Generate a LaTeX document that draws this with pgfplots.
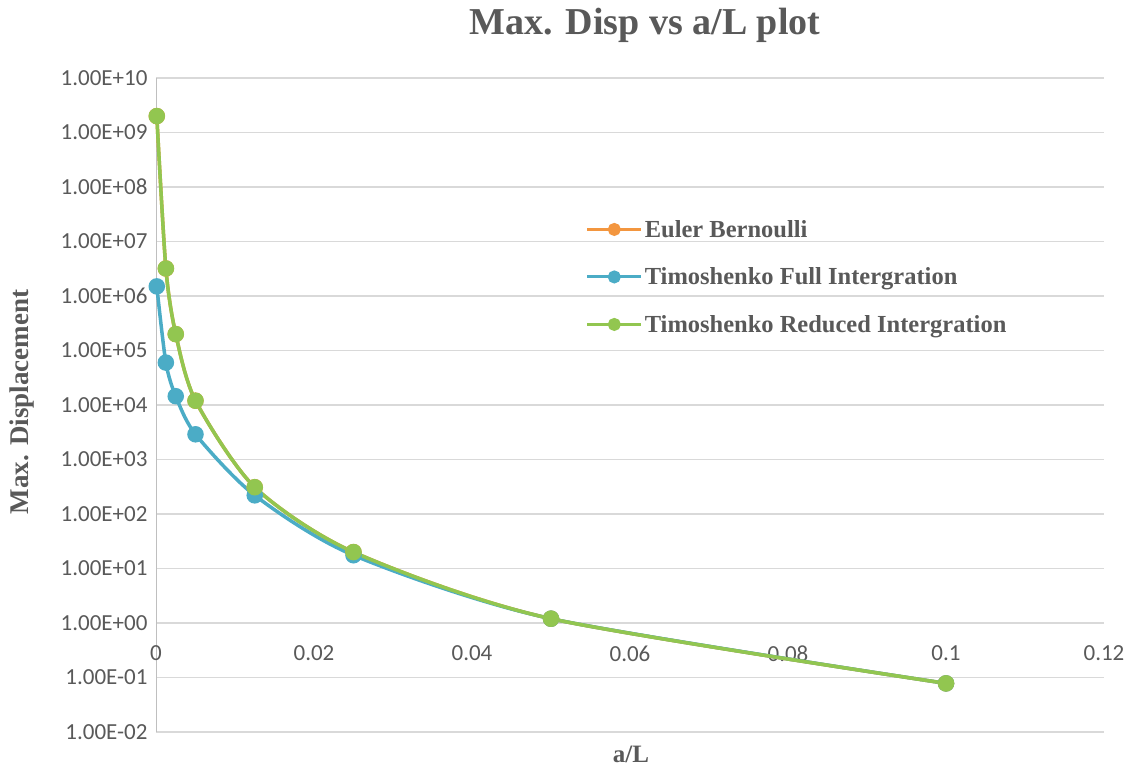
\documentclass[border=0pt]{standalone}
\usepackage{pgfplots}
\pgfplotsset{compat=1.18}
\usepackage{fontspec}
\setmainfont{Liberation Serif}
\newfontfamily\tickfont{Carlito}
\definecolor{txt}{HTML}{595959}
\definecolor{gridc}{HTML}{D9D9D9}
\definecolor{axc}{HTML}{BFBFBF}
\definecolor{ebc}{HTML}{F3963F}
\definecolor{tfc}{HTML}{4BACC6}
\definecolor{trc}{HTML}{92C650}
\begin{document}
\begin{tikzpicture}[x=1pt,y=1pt]
\useasboundingbox (0,0) rectangle (1132,772);
\begin{axis}[
  at={(156pt,40pt)}, anchor=south west,
  scale only axis, width=948pt, height=654pt,
  xmin=0, xmax=0.12, ymin=1e-2, ymax=1e10,
  ymode=log,
  axis x line*=bottom, axis y line*=left,
  x axis line style={gridc, line width=1.2pt, -},
  y axis line style={axc, line width=1pt, -},
  xtick={0,0.02,0.04,0.06,0.08,0.1,0.12},
  xticklabels={0,0.02,0.04,0.06,0.08,0.1,0.12},
  ytick={1e-2,1e-1,1e0,1e1,1e2,1e3,1e4,1e5,1e6,1e7,1e8,1e9,1e10},
  yticklabels={1.00E-02,1.00E-01,1.00E+00,1.00E+01,1.00E+02,1.00E+03,1.00E+04,1.00E+05,1.00E+06,1.00E+07,1.00E+08,1.00E+09,1.00E+10},
  minor ytick={}, yminorticks=false,
  major tick length=0pt,
  ymajorgrids, major grid style={gridc, line width=1.2pt},
  tick label style={font=\tickfont\fontsize{23}{23}\selectfont, text=txt},
  yticklabel style={xshift=-5pt},
  xticklabel style={yshift=90pt},
  clip=false,
  legend style={draw=none, fill=none, at={(0.45,0.789)}, anchor=north west,
    font=\bfseries\fontsize{24.5}{26}\selectfont, text=txt, row sep=25pt},
  legend cell align=left,
  legend image code/.code={\draw[#1, line width=3pt, mark size=5pt, mark repeat=2, mark phase=2] plot coordinates {(0pt,0pt) (27pt,0pt) (54pt,0pt)};},
  every axis plot/.append style={line width=3.5pt, smooth, tension=0.45, mark=*, mark size=6.5pt},
]
\addplot[ebc, mark options={fill=ebc, draw=ebc}] coordinates {
 (0.0001,2.0e9) (0.00125,3.2e6) (0.0025,2.0e5) (0.005,1.2e4) (0.0125,310) (0.025,20) (0.05,1.2) (0.1,0.078)};
\addlegendentry{Euler Bernoulli}
\addplot[tfc, mark options={fill=tfc, draw=tfc}] coordinates {
 (0.0001,1.5e6) (0.00125,6.0e4) (0.0025,1.45e4) (0.005,2.9e3) (0.0125,220) (0.025,17.5) (0.05,1.2) (0.1,0.078)};
\addlegendentry{Timoshenko Full Intergration}
\addplot[trc, mark options={fill=trc, draw=trc}] coordinates {
 (0.0001,2.0e9) (0.00125,3.2e6) (0.0025,2.0e5) (0.005,1.2e4) (0.0125,310) (0.025,20) (0.05,1.2) (0.1,0.078)};
\addlegendentry{Timoshenko Reduced Intergration}
\end{axis}
\node[text=txt, font=\bfseries\fontsize{38}{38}\selectfont] at (645,747) {Max. Disp vs a/L plot};
\node[text=txt, font=\bfseries\fontsize{25}{25}\selectfont] at (631,18) {a/L};
\node[text=txt, font=\bfseries\fontsize{27}{27}\selectfont, rotate=90] at (22,370) {Max. Displacement};
\end{tikzpicture}
\end{document}
